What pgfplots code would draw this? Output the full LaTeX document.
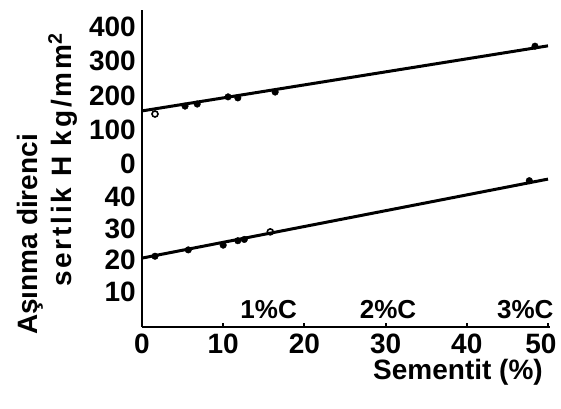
\documentclass[border=0pt]{standalone}
\usepackage{fontspec}
\setmainfont{Liberation Sans}
\usepackage{pgfplots}
\pgfplotsset{compat=1.18}

\newcommand\F[1]{\fontsize{#1}{#1}\selectfont\bfseries}

% both axes share one frame: 1pt = 1px of the 561x408 original
\pgfplotsset{
  frame/.style={
    scale only axis,
    width=407.6pt, height=317pt,
    xmin=0, xmax=50.2,
    at={(142pt,-327pt)}, anchor=south west,
    clip=false,
    /pgf/number format/assume math mode=true,
    tick label style={font=\F{28}},
    ytick style={draw=none},
    yticklabel style={inner sep=0pt, anchor=east, xshift=-6pt},
  },
}

\begin{document}
\begin{tikzpicture}
% lower scale (sertlik H)
\begin{axis}[frame,
  axis lines=left,
  axis line style={-, line width=2.8pt},
  ymin=-1.1, ymax=99.2,
  xtick={0,10,20,30,40},
  extra x ticks={50},
  extra x tick style={xticklabel style={xshift=-7pt}},
  ytick={10,20,30,40},
  tick align=inside,
  major tick length=4pt,
  xtick style={line width=2pt, black},
  xticklabel style={inner sep=0pt, anchor=north, yshift=-7pt},
]
\addplot[line width=3pt] coordinates {(0,20.7) (50,45.7)};
\addplot[only marks, mark=*, mark size=3.3pt] coordinates {
  (1.6,21.3) (5.7,23.3) (10,24.8) (11.8,26.2) (12.6,26.6) (47.7,45.2)};
\addplot[only marks, mark=o, mark size=3pt, line width=1.6pt, fill=white] coordinates {(15.8,29.0)};
\node[anchor=base, font=\F{26}] at (axis cs:15.6,1.7) {1\%C};
\node[anchor=base, font=\F{26}] at (axis cs:30.3,1.7) {2\%C};
\node[anchor=base, font=\F{26}] at (axis cs:47.2,1.7) {3\%C};
\end{axis}
% upper scale (asinma direnci)
\begin{axis}[frame,
  hide x axis,
  axis y line*=left,
  y axis line style={draw=none},
  ymin=-475.9, ymax=449.6,
  ytick={0,100,200,300,400},
]
\addplot[line width=3pt] coordinates {(0,155) (50,345)};
\addplot[only marks, mark=*, mark size=3.3pt] coordinates {
  (5.3,169) (6.8,175) (10.6,196) (11.8,193) (16.4,210) (48.4,344)};
\addplot[only marks, mark=o, mark size=3pt, line width=1.6pt, fill=white] coordinates {(1.6,146)};
\end{axis}
\node[anchor=base east, inner sep=0pt, font=\F{28}] at (543pt,-379pt) {Sementit (\%)};
\node[rotate=90, anchor=base west, inner sep=0pt, font=\F{28}] at (37pt,-335pt) {Aşınma direnci};
\node[rotate=90, anchor=base west, inner sep=0pt, font=\F{28}\addfontfeature{LetterSpace=10}] at (71pt,-287pt) {sertlik H kg/mm\textsuperscript{2}};
\pgfresetboundingbox
\path[use as bounding box] (0,0) rectangle (561pt,-408pt);
\end{tikzpicture}
\end{document}
